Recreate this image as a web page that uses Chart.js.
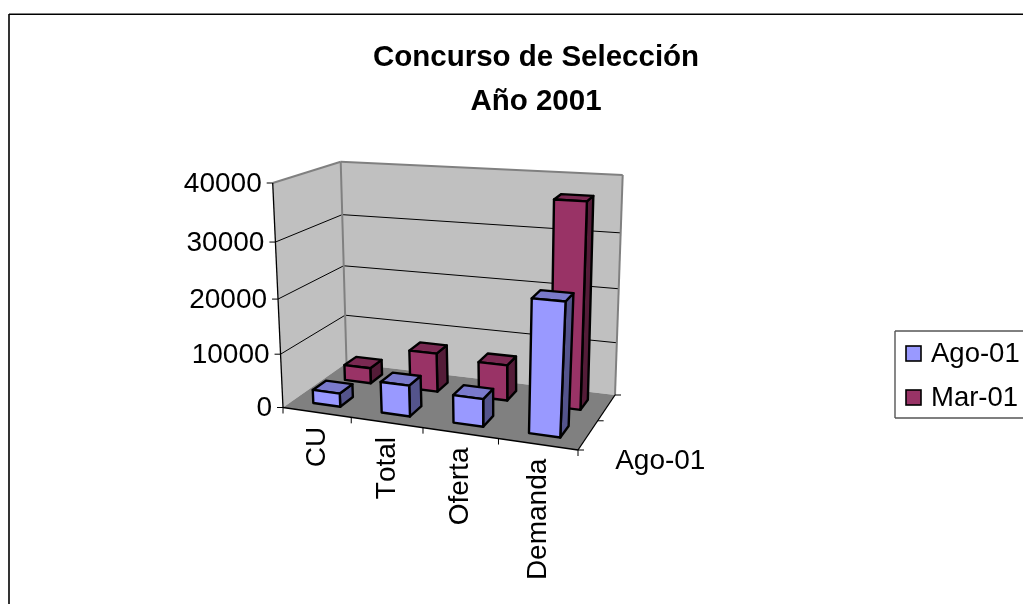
<!DOCTYPE html>
<html>
<head>
<meta charset="utf-8">
<style>
html,body{margin:0;padding:0;background:#fff;overflow:hidden}
#wrap{position:absolute;left:0;top:0;width:1023px;height:604px}
</style>
<script src="https://cdn.jsdelivr.net/npm/chart.js@4"></script>
</head>
<body>
<div id="wrap"><canvas id="c" width="1023" height="604"></canvas></div>
<script>
const titleLines = ['Concurso de Selección', 'Año 2001'];
const categories = ['CU', 'Total', 'Oferta', 'Demanda'];
const seriesAgo = [2500, 5700, 5000, 23300];
const seriesMar = [3000, 7400, 6700, 36900];
const seriesNames = ['Ago-01', 'Mar-01'];
const depthLabels = ['Ago-01'];
const yMax = 40000, yStep = 10000;

const FONT = '"Liberation Sans", Arial, sans-serif';
// The 3D box of the plot: corners given as [front-left, front-right, back-left, back-right]
const floorQuad = [[283,407.5],[578,450],[346.5,363],[615,395]];
const topQuad   = [[272.7,183],[592,204],[340.7,161.7],[622.7,175]];
const heightBend = -0.066;
const widthBend = 0.03;

function quadMap(q, u, v) {
  const [a,b,c,d] = q;
  const dx1=b[0]-d[0], dy1=b[1]-d[1], dx2=c[0]-d[0], dy2=c[1]-d[1];
  const sx=a[0]-b[0]+d[0]-c[0], sy=a[1]-b[1]+d[1]-c[1];
  const det=dx1*dy2-dx2*dy1;
  const g=(sx*dy2-dx2*sy)/det, k=(dx1*sy-sx*dy1)/det;
  const w=1+g*u+k*v;
  return [
    (a[0]+(b[0]*(1+g)-a[0])*u+(c[0]*(1+k)-a[0])*v)/w,
    (a[1]+(b[1]*(1+g)-a[1])*u+(c[1]*(1+k)-a[1])*v)/w
  ];
}
function project(u, v, h) {
  const ub=u+widthBend*u*(1-u);
  const p=quadMap(floorQuad,ub,v), t=quadMap(topQuad,ub,v);
  const f=h*(1+heightBend)/(1+heightBend*h);
  return [p[0]+(t[0]-p[0])*f, p[1]+(t[1]-p[1])*f];
}
function poly(ctx, pts, fill, stroke, lw) {
  ctx.beginPath();
  pts.forEach((p,i)=> i?ctx.lineTo(p[0],p[1]):ctx.moveTo(p[0],p[1]));
  ctx.closePath();
  if (fill){ctx.fillStyle=fill;ctx.fill();}
  if (stroke){ctx.strokeStyle=stroke;ctx.lineWidth=lw;ctx.stroke();}
}
function seg(ctx, a, b, color, lw) {
  ctx.beginPath();ctx.moveTo(a[0],a[1]);ctx.lineTo(b[0],b[1]);
  ctx.strokeStyle=color;ctx.lineWidth=lw;ctx.stroke();
}
function shade(hex, k) {
  const n=parseInt(hex.slice(1),16);
  return 'rgb('+[(n>>16)&255,(n>>8)&255,n&255].map(c=>Math.round(c*k)).join(',')+')';
}

const box3d = {
  id:'box3d',
  beforeDatasetsDraw(chart){
    const ctx=chart.ctx, ys=chart.scales.y;
    ctx.save();
    ctx.lineJoin='miter';
    ctx.fontKerning='none';
    // frame of the chart (runs past the window)
    seg(ctx,[9,14],[9,604],'#000',1.6);
    seg(ctx,[9,14.3],[1023,14.3],'#000',1.4);
    // walls and floor
    const W='#C0C0C0', E='#808080';
    poly(ctx,[project(0,0,0),project(0,1,0),project(0,1,1),project(0,0,1)],W);
    poly(ctx,[project(0,1,0),project(1,1,0),project(1,1,1),project(0,1,1)],W);
    poly(ctx,[project(0,0,0),project(1,0,0),project(1,1,0),project(0,1,0)],E);
    // gridlines from the value scale
    ys.ticks.forEach(t=>{
      const h=(ys.bottom-ys.getPixelForValue(t.value))/ys.height;
      if(h>0 && h<1){
        seg(ctx,project(0,0,h),project(0,1,h),'#000',1);
        seg(ctx,project(0,1,h),project(1,1,h),'#000',1);
      }
    });
    // wall edges
    seg(ctx,project(0,0,1),project(0,1,1),E,2);
    seg(ctx,project(0,1,1),project(1,1,1),E,2);
    seg(ctx,project(1,1,1),project(1,1,0),E,2);
    seg(ctx,project(0,1,1),project(0,1,0),E,2);
    // axes
    seg(ctx,project(0,0,0),project(0,0,1),'#000',1.3);
    seg(ctx,project(0,0,0),project(1,0,0),'#000',1.3);
    seg(ctx,project(1,0,0),project(1,1,0),'#000',1.3);
    ctx.fillStyle='#000';
    ctx.font='28px '+FONT;
    // value axis ticks and labels
    ctx.textAlign='right';ctx.textBaseline='middle';
    ys.ticks.forEach(t=>{
      const h=(ys.bottom-ys.getPixelForValue(t.value))/ys.height;
      const p=project(0,0,h);
      seg(ctx,[p[0]-6,p[1]],p,'#000',1);
      ctx.fillStyle='#000';
      ctx.fillText(String(t.value),p[0]-11,p[1]+1);
    });
    // category axis ticks and rotated labels
    const n=categories.length;
    for(let i=0;i<=n;i++){
      const p=project(i/n,0,0);
      seg(ctx,p,[p[0],p[1]+6],'#000',1);
    }
    categories.forEach((c,i)=>{
      const p=project((i+.5)/n,0,0);
      ctx.save();
      ctx.translate(p[0]+8,p[1]+14.5);
      ctx.rotate(-Math.PI/2);
      ctx.textAlign='right';ctx.textBaseline='alphabetic';
      ctx.fillStyle='#000';
      ctx.fillText(c,0,0);
      ctx.restore();
    });
    // depth axis ticks and label
    const m=seriesNames.length;
    for(let i=0;i<=m;i++){
      const p=project(1,i/m,0);
      seg(ctx,p,[p[0]+6,p[1]],'#000',1);
    }
    depthLabels.forEach(lbl=>{
      const p=project(1,.5/m,0);
      ctx.textAlign='left';ctx.textBaseline='middle';
      ctx.fillStyle='#000';
      ctx.fillText(lbl,p[0]+27,p[1]+26);
    });
    // legend, built from the datasets
    const ds=chart.data.datasets;
    const lx=895, ly=331, lb=418;
    seg(ctx,[lx,ly],[1023,ly],'#000',1);
    seg(ctx,[lx,lb],[1023,lb],'#555',1.4);
    seg(ctx,[lx,ly],[lx,lb],'#555',1.4);
    ctx.textAlign='left';ctx.textBaseline='middle';
    ctx.font='27.5px '+FONT;
    ds.forEach((d,i)=>{
      const cy=354+i*44;
      ctx.fillStyle=d.backgroundColor;
      ctx.fillRect(906,cy-8,15,15);
      ctx.strokeStyle='#000';ctx.lineWidth=1.6;
      ctx.strokeRect(906,cy-8,15,15);
      ctx.fillStyle='#000';
      ctx.fillText(d.label,931,cy);
    });
    ctx.restore();
  },
  beforeDatasetDraw(chart,args){
    const ctx=chart.ctx, xs=chart.scales.x, ys=chart.scales.y;
    const m=chart.data.datasets.length;
    const base=chart.data.datasets[args.index].backgroundColor;
    const vc=(args.index+.5)/m, vh=.2/m*1;
    ctx.save();
    ctx.lineJoin='round';
    args.meta.data.forEach(el=>{
      const uc=(el.x-xs.left)/xs.width, uh=el.width/2/xs.width;
      const h=(ys.bottom-el.y)/ys.height;
      const u0=uc-uh,u1=uc+uh,v0=vc-vh,v1=vc+vh;
      poly(ctx,[project(u1,v0,0),project(u1,v1,0),project(u1,v1,h),project(u1,v0,h)],shade(base,.55),'#000',2.4);
      poly(ctx,[project(u0,v0,h),project(u1,v0,h),project(u1,v1,h),project(u0,v1,h)],shade(base,.8),'#000',2.4);
      poly(ctx,[project(u0,v0,0),project(u1,v0,0),project(u1,v0,h),project(u0,v0,h)],base,'#000',2.4);
    });
    ctx.restore();
    return false;
  }
};

new Chart(document.getElementById('c'),{
  type:'bar',
  plugins:[box3d],
  data:{
    labels:categories,
    datasets:[
      {label:seriesNames[0],data:seriesAgo,backgroundColor:'#9999FF'},
      {label:seriesNames[1],data:seriesMar,backgroundColor:'#993366'}
    ]
  },
  options:{
    responsive:false,
    animation:false,
    datasets:{bar:{grouped:false,categoryPercentage:1,barPercentage:.4}},
    layout:{padding:{left:49}},
    scales:{
      x:{display:false},
      y:{display:false,min:0,max:yMax,ticks:{stepSize:yStep}}
    },
    plugins:{
      legend:{display:false},
      tooltip:{enabled:false},
      title:{
        display:true,
        text:titleLines,
        color:'#000',
        font:{family:FONT,size:29.5,weight:'bold',lineHeight:1.49},
        padding:{top:36,bottom:10}
      }
    }
  }
});
</script>
</body>
</html>
